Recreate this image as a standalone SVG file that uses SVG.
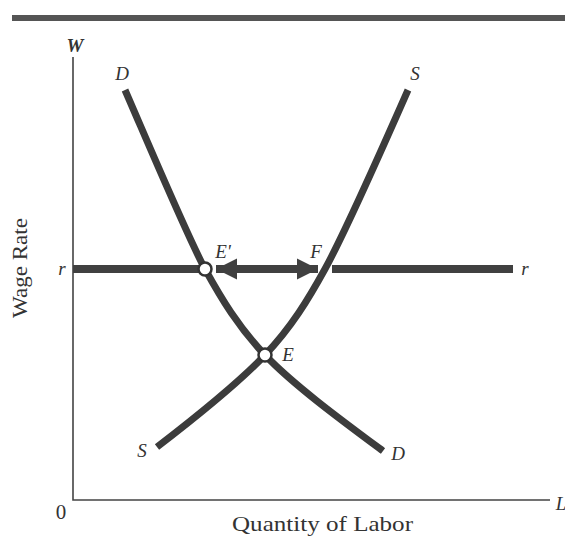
<svg xmlns="http://www.w3.org/2000/svg" width="565" height="538" viewBox="0 0 565 538">
<style>
.lbl{font-family:"Liberation Serif","Times New Roman",serif;font-style:italic;font-size:19px;fill:#333}
.ax{stroke:#444;stroke-width:1.6;fill:none}
.crv{stroke:#3c3c3c;stroke-width:7;fill:none;stroke-linecap:butt}
.rl{stroke:#404040;stroke-width:8;fill:none}
.pt{fill:#fff;stroke:#333;stroke-width:2.5}
.cap{font-family:"Liberation Serif","Times New Roman",serif;font-size:21px;fill:#333}
</style>
<defs>
<marker id="ah" viewBox="0 0 10 10" refX="10" refY="5" markerWidth="21" markerHeight="22" markerUnits="userSpaceOnUse" orient="auto-start-reverse">
<path d="M0,0 L10,5 L0,10 Z" fill="#404040"/>
</marker>
</defs>
<rect width="565" height="538" fill="#fff"/>
<rect x="12" y="15" width="553" height="6" fill="#555"/>
<g id="axes">
<path class="ax" d="M73,57 V500 H550"/>
<text class="lbl" x="75" y="52" text-anchor="middle" font-weight="bold" font-size="16">W</text>
<text class="lbl" x="561" y="510" text-anchor="middle">L</text>
<text class="cap" x="61" y="519" text-anchor="middle" font-size="17">0</text>
<text class="cap" x="232" y="531" textLength="181" lengthAdjust="spacingAndGlyphs">Quantity of Labor</text>
<text class="cap" transform="translate(27,268) rotate(-90)" text-anchor="middle" textLength="100" lengthAdjust="spacingAndGlyphs">Wage Rate</text>
</g>
<g id="connectors">
<path id="demand" class="crv" d="M125,90 C151,150 188.5,239 205,269 C221.5,299 238.4,327 265,355 C293.5,385 342.5,421 383,451"/>
<path id="supply" class="crv" d="M408,90 C381.6,150 341.5,239 325,269 C308.5,299 291.6,327 265,355 C236.5,385 196,417 157,447"/>
<path id="r-left" class="rl" d="M73,269 H200"/>
<path id="r-right" class="rl" d="M332,269 H513"/>
<path id="arrow" class="rl" d="M216,269 H318" marker-start="url(#ah)" marker-end="url(#ah)"/>
</g>
<g id="node-Eprime">
<circle class="pt" cx="205" cy="269" r="6.5"/>
<text class="lbl" x="223" y="258" text-anchor="middle">E'</text>
</g>
<g id="node-F">
<text class="lbl" x="316" y="258" text-anchor="middle">F</text>
</g>
<g id="node-E">
<circle class="pt" cx="265" cy="355" r="6.5"/>
<text class="lbl" x="288" y="361" text-anchor="middle">E</text>
</g>
<g id="labels">
<text class="lbl" x="122" y="80" text-anchor="middle">D</text>
<text class="lbl" x="415" y="80" text-anchor="middle">S</text>
<text class="lbl" x="142" y="457" text-anchor="middle">S</text>
<text class="lbl" x="398" y="460" text-anchor="middle">D</text>
<text class="lbl" x="62" y="275" text-anchor="middle">r</text>
<text class="lbl" x="525" y="275" text-anchor="middle">r</text>
</g>
</svg>
